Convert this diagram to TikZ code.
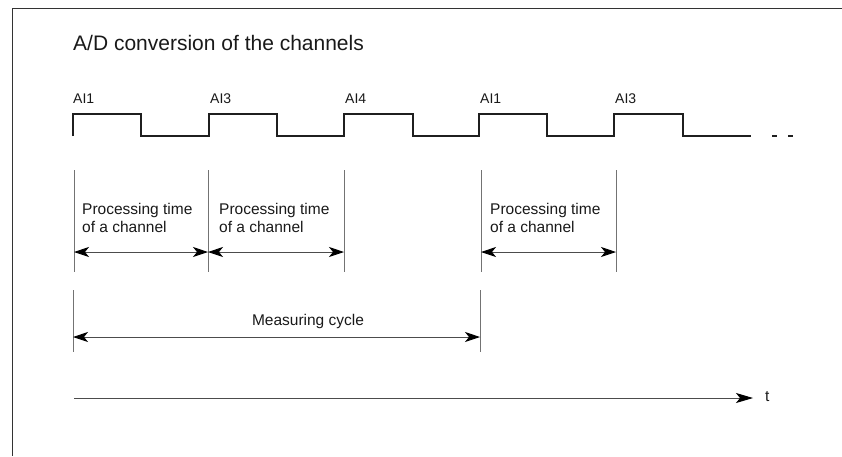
\documentclass[tikz,border=0pt]{standalone}
\usepackage{fontspec}
\setmainfont{Liberation Sans}
\usetikzlibrary{arrows.meta}
\begin{document}
\begin{tikzpicture}[x=1pt,y=-1pt,
  frameline/.style={line width=1pt, color=black!80},
  sig/.style={line width=1.4pt, color=black!88},
  ext/.style={line width=0.7pt, color=black!55},
  dimarrow/.style={line width=0.9pt, color=black!70,
    {Stealth[length=15pt,width=10pt,inset=4pt,color=black]}-{Stealth[length=15pt,width=10pt,inset=4pt,color=black]}},
  axisarrow/.style={line width=1pt, color=black!70, -{Stealth[length=17pt,width=10pt,inset=4pt,color=black]}},
  titletext/.style={font=\fontsize{21}{24}\selectfont, anchor=base west, inner sep=0pt, color=black!90},
  chlabel/.style={font=\fontsize{14}{16}\selectfont, anchor=base west, inner sep=0pt, color=black!90},
  desc/.style={font=\fontsize{15.5}{18}\selectfont, anchor=north west, inner sep=0pt, align=left, color=black!90},
  cyc/.style={font=\fontsize{15.5}{18}\selectfont, anchor=base, inner sep=0pt, color=black!90}
]
\useasboundingbox (0,0) rectangle (842,456);

% frame
\coordinate (fTR) at (842,8);
\coordinate (fTL) at (12,8);
\coordinate (fBL) at (12,456);
\draw[frameline] (fTR) -- (fTL) -- (fBL);

% title
\node[titletext] (title) at (73,50) {A/D conversion of the channels};

% signal
\coordinate (p0) at (73,136);
\draw[sig] (p0) -- (73,114) -- (141,114) -- (141,136) -- (209,136)
  -- (209,114) -- (277,114) -- (277,136) -- (344,136)
  -- (344,114) -- (413,114) -- (413,136) -- (479,136)
  -- (479,114) -- (547,114) -- (547,136) -- (614,136)
  -- (614,114) -- (683,114) -- (683,136) -- (751,136) coordinate (pend);
\coordinate (d1a) at (772,136); \coordinate (d1b) at (777,136);
\coordinate (d2a) at (788,136); \coordinate (d2b) at (793,136);
\draw[sig] (d1a) -- (d1b) (d2a) -- (d2b);

% channel labels
\node[chlabel] (l1) at (73,103) {AI1};
\node[chlabel] (l2) at (210,103) {AI3};
\node[chlabel] (l3) at (345,103) {AI4};
\node[chlabel] (l4) at (480,103) {AI1};
\node[chlabel] (l5) at (615,103) {AI3};

% extension lines (processing)
\foreach \n/\x in {a/74,b/208,c/344,d/481,e/616}{
  \coordinate (t\n) at (\x,170);
  \coordinate (m\n) at (\x,252);
  \coordinate (b\n) at (\x,272);
  \draw[ext] (t\n) -- (b\n);
}
\draw[dimarrow] (ma) -- (mb);
\draw[dimarrow] (mb) -- (mc);
\draw[dimarrow] (md) -- (me);

\node[desc] (pt1) at (82,203) {Processing time\\of a channel};
\node[desc] (pt2) at (219,203) {Processing time\\of a channel};
\node[desc] (pt3) at (490,203) {Processing time\\of a channel};

% measuring cycle
\coordinate (mcTa) at (73,290); \coordinate (mcBa) at (73,352);
\coordinate (mcTb) at (480,290); \coordinate (mcBb) at (480,352);
\draw[ext] (mcTa) -- (mcBa);
\draw[ext] (mcTb) -- (mcBb);
\coordinate (mcA) at (73,337); \coordinate (mcB) at (480,337);
\draw[dimarrow] (mcA) -- (mcB);
\node[cyc] (mcyc) at (308,325) {Measuring cycle};

% time axis
\coordinate (ax0) at (74,398);
\node[font=\fontsize{15.5}{18}\selectfont, anchor=west, inner sep=0pt, color=black!90] (tl) at (765,397) {t};
\coordinate (ax1) at (753,398);
\draw[axisarrow] (ax0) -- (ax1);
\end{tikzpicture}
\end{document}
